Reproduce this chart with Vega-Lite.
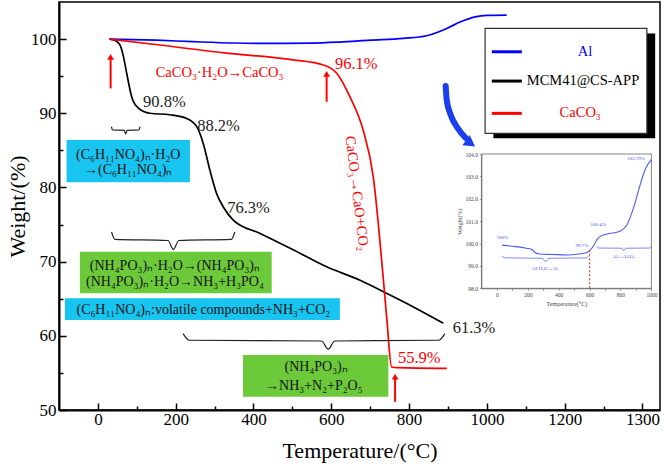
{
  "$schema": "https://vega.github.io/schema/vega-lite/v6.json",
  "width": 601,
  "height": 408,
  "padding": {"left": 59, "top": 2, "right": 4, "bottom": 62},
  "autosize": {"type": "none"},
  "background": "white",
  "config": {
    "font": "Liberation Serif",
    "view": {"stroke": "black", "strokeWidth": 1.5},
    "axis": {"grid": false, "labelFont": "Liberation Serif", "titleFont": "Liberation Serif", "titleFontWeight": "normal", "labelColor": "black", "titleColor": "black", "domainColor": "black", "tickColor": "black", "labelOverlap": false, "labelFlush": false}
  },
  "layer": [
    {
      "layer": [
        {
          "data": {"values": [
            {"t": -80.5, "t2": 236.6, "v": 86.4, "v2": 80.7},
            {"t": -84.9, "t2": 622, "v": 65.05, "v2": 62.13}
          ]},
          "mark": {"type": "rect", "color": "#18c4f0"},
          "encoding": {
            "x": {"field": "t", "type": "quantitative", "scale": {"domain": [-100, 1445], "nice": false, "zero": false},
              "axis": {"values": [0,100,200,300,400,500,600,700,800,900,1000,1100,1200,1300,1400], "format": "d",
                "labelExpr": "datum.value == 1400 ? '1300' : (datum.value % 200 == 0 ? datum.label : '')",
                "tickSize": {"condition": {"test": "datum.value % 200 == 0", "value": -7}, "value": -4},
                "tickWidth": 1.5, "domainWidth": 2, "labelFontSize": 17, "labelPadding": 8,
                "title": "Temperature/(°C)", "titleFontSize": 22, "titleFontWeight": "normal", "titlePadding": 10}},
            "x2": {"field": "t2"},
            "y": {"field": "v", "type": "quantitative", "scale": {"domain": [50, 105], "nice": false, "zero": false},
              "axis": {"values": [50,55,60,65,70,75,80,85,90,95,100],
                "labelExpr": "datum.value % 10 == 0 ? datum.label : ''",
                "tickSize": {"condition": {"test": "datum.value % 10 == 0", "value": -7}, "value": -4},
                "tickWidth": 1.5, "domainWidth": 2, "labelFontSize": 17, "labelPadding": 10,
                "title": "Weight/(%)", "titleFontSize": 22, "titleFontWeight": "normal", "titlePadding": 1}},
            "y2": {"field": "v2"}
          }
        },
        {
          "data": {"values": [
            {"t": -46.3, "t2": 446.8, "v": 71.33, "v2": 65.73},
            {"t": 373, "t2": 746.7, "v": 57.4, "v2": 51.8}
          ]},
          "mark": {"type": "rect", "color": "#6cc93a"},
          "encoding": {
            "x": {"field": "t", "type": "quantitative"},
            "x2": {"field": "t2"},
            "y": {"field": "v", "type": "quantitative"},
            "y2": {"field": "v2"}
          }
        },
        {
          "data": {"values": [
            {"s": "Al", "t": 30, "v": 100.0},
            {"s": "Al", "t": 150, "v": 99.85},
            {"s": "Al", "t": 245, "v": 99.65},
            {"s": "Al", "t": 350, "v": 99.47},
            {"s": "Al", "t": 450, "v": 99.42},
            {"s": "Al", "t": 550, "v": 99.46},
            {"s": "Al", "t": 620, "v": 99.6},
            {"s": "Al", "t": 700, "v": 99.85},
            {"s": "Al", "t": 785, "v": 100.1},
            {"s": "Al", "t": 845, "v": 100.45},
            {"s": "Al", "t": 897, "v": 101.44},
            {"s": "Al", "t": 931, "v": 102.3},
            {"s": "Al", "t": 970, "v": 103.0},
            {"s": "Al", "t": 1000, "v": 103.19},
            {"s": "Al", "t": 1051, "v": 103.23},
            {"s": "MCM41@CS-APP", "t": 30, "v": 100.0},
            {"s": "MCM41@CS-APP", "t": 45, "v": 99.8},
            {"s": "MCM41@CS-APP", "t": 57, "v": 99.2},
            {"s": "MCM41@CS-APP", "t": 65, "v": 97.8},
            {"s": "MCM41@CS-APP", "t": 74, "v": 95.4},
            {"s": "MCM41@CS-APP", "t": 87, "v": 92.2},
            {"s": "MCM41@CS-APP", "t": 104, "v": 90.7},
            {"s": "MCM41@CS-APP", "t": 134, "v": 90.0},
            {"s": "MCM41@CS-APP", "t": 185, "v": 89.8},
            {"s": "MCM41@CS-APP", "t": 228, "v": 89.3},
            {"s": "MCM41@CS-APP", "t": 254, "v": 88.2},
            {"s": "MCM41@CS-APP", "t": 271, "v": 85.9},
            {"s": "MCM41@CS-APP", "t": 288, "v": 82.3},
            {"s": "MCM41@CS-APP", "t": 305, "v": 79.2},
            {"s": "MCM41@CS-APP", "t": 322, "v": 77.4},
            {"s": "MCM41@CS-APP", "t": 348, "v": 75.6},
            {"s": "MCM41@CS-APP", "t": 417, "v": 73.8},
            {"s": "MCM41@CS-APP", "t": 502, "v": 71.6},
            {"s": "MCM41@CS-APP", "t": 588, "v": 69.3},
            {"s": "MCM41@CS-APP", "t": 674, "v": 67.5},
            {"s": "MCM41@CS-APP", "t": 751, "v": 65.5},
            {"s": "MCM41@CS-APP", "t": 811, "v": 63.9},
            {"s": "MCM41@CS-APP", "t": 888, "v": 61.7},
            {"s": "CaCO3", "t": 30, "v": 100.0},
            {"s": "CaCO3", "t": 159, "v": 99.2},
            {"s": "CaCO3", "t": 331, "v": 98.1},
            {"s": "CaCO3", "t": 502, "v": 97.2},
            {"s": "CaCO3", "t": 580, "v": 96.5},
            {"s": "CaCO3", "t": 614, "v": 95.4},
            {"s": "CaCO3", "t": 648, "v": 92.2},
            {"s": "CaCO3", "t": 682, "v": 87.7},
            {"s": "CaCO3", "t": 708, "v": 81.4},
            {"s": "CaCO3", "t": 734, "v": 67.5},
            {"s": "CaCO3", "t": 743, "v": 62.1},
            {"s": "CaCO3", "t": 755, "v": 55.8},
            {"s": "CaCO3", "t": 770, "v": 55.7},
            {"s": "CaCO3", "t": 897, "v": 55.6}
          ]},
          "mark": {"type": "line", "strokeWidth": 1.7, "interpolate": "monotone"},
          "encoding": {
            "x": {"field": "t", "type": "quantitative"},
            "y": {"field": "v", "type": "quantitative"},
            "color": {"field": "s", "type": "nominal", "scale": {"domain": ["Al", "MCM41@CS-APP", "CaCO3"], "range": ["#0000ff", "#000000", "#ff0000"]}, "legend": null}
          }
        },
        {
          "data": {"values": [
            {"b": 1, "t": 35, "v": 88.2}, {"b": 1, "t": 37.2, "v": 87.75}, {"b": 1, "t": 67.8, "v": 87.7}, {"b": 1, "t": 71.5, "v": 87.2}, {"b": 1, "t": 75.2, "v": 87.7}, {"b": 1, "t": 105.8, "v": 87.75}, {"b": 1, "t": 108, "v": 88.2},
            {"b": 2, "t": 35, "v": 74.0}, {"b": 2, "t": 44, "v": 73.0}, {"b": 2, "t": 180, "v": 72.85}, {"b": 2, "t": 194, "v": 71.65}, {"b": 2, "t": 208, "v": 72.85}, {"b": 2, "t": 343, "v": 73.0}, {"b": 2, "t": 352, "v": 74.0},
            {"b": 3, "t": 219, "v": 60.3}, {"b": 3, "t": 235, "v": 59.4}, {"b": 3, "t": 575, "v": 59.3}, {"b": 3, "t": 592, "v": 58.2}, {"b": 3, "t": 609, "v": 59.3}, {"b": 3, "t": 876, "v": 59.4}, {"b": 3, "t": 892, "v": 60.3}
          ]},
          "mark": {"type": "line", "color": "#222", "strokeWidth": 1.2, "interpolate": "monotone"},
          "encoding": {
            "x": {"field": "t", "type": "quantitative"},
            "y": {"field": "v", "type": "quantitative"},
            "detail": {"field": "b", "type": "nominal"}
          }
        },
        {
          "data": {"values": [
            {"t": 32.7, "v": 93.35, "v2": 97.6},
            {"t": 588, "v": 91.55, "v2": 95.3},
            {"t": 764, "v": 51.1, "v2": 54.5}
          ]},
          "layer": [
            {"mark": {"type": "rule", "color": "#ff0000", "strokeWidth": 2},
             "encoding": {"x": {"field": "t", "type": "quantitative"}, "y": {"field": "v", "type": "quantitative"}, "y2": {"field": "v2"}}},
            {"mark": {"type": "point", "shape": "triangle-up", "filled": true, "color": "#ff0000", "opacity": 1, "size": 45},
             "encoding": {"x": {"field": "t", "type": "quantitative"}, "y": {"field": "v2", "type": "quantitative"}}}
          ]
        },
        {
          "data": {"values": [
            {"t": 78, "v": 84.4, "label": "(C₆H₁₁NO₄)ₙ·H₂O"},
            {"t": 78, "v": 82.35, "label": "→(C₆H₁₁NO₄)ₙ"},
            {"t": 198, "v": 69.35, "label": "(NH₄PO₃)ₙ·H₂O→(NH₄PO₃)ₙ"},
            {"t": 198, "v": 67.2, "label": "(NH₄PO₃)ₙ·H₂O→NH₃+H₃PO₄"},
            {"t": 271, "v": 63.5, "label": "(C₆H₁₁NO₄)ₙ:volatile compounds+NH₃+CO₂"},
            {"t": 561, "v": 55.75, "label": "(NH₄PO₃)ₙ"},
            {"t": 555, "v": 53.3, "label": "→NH₃+N₂+P₂O₅"}
          ]},
          "mark": {"type": "text", "fontSize": 14, "color": "#111", "align": "center", "baseline": "middle", "font": "Liberation Serif"},
          "encoding": {"x": {"field": "t", "type": "quantitative"}, "y": {"field": "v", "type": "quantitative"}, "text": {"field": "label"}}
        },
        {
          "data": {"values": [
            {"t": 171, "v": 91.5, "label": "90.8%"},
            {"t": 310, "v": 88.35, "label": "88.2%"},
            {"t": 387, "v": 77.2, "label": "76.3%"},
            {"t": 967, "v": 61.0, "label": "61.3%"}
          ]},
          "mark": {"type": "text", "fontSize": 16.5, "color": "#222", "align": "center", "baseline": "middle", "font": "Liberation Serif"},
          "encoding": {"x": {"field": "t", "type": "quantitative"}, "y": {"field": "v", "type": "quantitative"}, "text": {"field": "label"}}
        },
        {
          "data": {"values": [
            {"t": 664, "v": 96.7, "label": "96.1%"},
            {"t": 826, "v": 57.0, "label": "55.9%"}
          ]},
          "mark": {"type": "text", "fontSize": 16.5, "color": "#ff0000", "align": "center", "baseline": "middle", "font": "Liberation Serif"},
          "encoding": {"x": {"field": "t", "type": "quantitative"}, "y": {"field": "v", "type": "quantitative"}, "text": {"field": "label"}}
        },
        {
          "data": {"values": [
            {"t": 313, "v": 95.46, "label": "CaCO₃·H₂O→CaCO₃"}
          ]},
          "mark": {"type": "text", "fontSize": 14.5, "color": "#ff0000", "align": "center", "baseline": "middle", "font": "Liberation Serif"},
          "encoding": {"x": {"field": "t", "type": "quantitative"}, "y": {"field": "v", "type": "quantitative"}, "text": {"field": "label"}}
        },
        {
          "data": {"values": [
            {"t": 665, "v": 79.2, "label": "CaCO₃→CaO+CO₂"}
          ]},
          "mark": {"type": "text", "fontSize": 14.5, "color": "#ff0000", "align": "center", "baseline": "middle", "angle": 83, "font": "Liberation Serif"},
          "encoding": {"x": {"field": "t", "type": "quantitative"}, "y": {"field": "v", "type": "quantitative"}, "text": {"field": "label"}}
        },
        {
          "data": {"values": [
            {"t": 1016.7, "t2": 1432.6, "v": 100.77, "v2": 86.62}
          ]},
          "mark": {"type": "rect", "color": "black"},
          "encoding": {"x": {"field": "t", "type": "quantitative"}, "x2": {"field": "t2"}, "y": {"field": "v", "type": "quantitative"}, "y2": {"field": "v2"}}
        },
        {
          "data": {"values": [
            {"t": 995.4, "t2": 1411.3, "v": 101.44, "v2": 87.29}
          ]},
          "mark": {"type": "rect", "fill": "white", "stroke": "#333", "strokeWidth": 1.2},
          "encoding": {"x": {"field": "t", "type": "quantitative"}, "x2": {"field": "t2"}, "y": {"field": "v", "type": "quantitative"}, "y2": {"field": "v2"}}
        },
        {
          "data": {"values": [
            {"s": "Al", "label": "Al", "t": 1012.6, "t2": 1089.8, "lt": 1252, "v": 98.29},
            {"s": "MCM41@CS-APP", "label": "MCM41@CS-APP", "t": 1012.6, "t2": 1089.8, "lt": 1247, "v": 94.34},
            {"s": "CaCO3", "label": "CaCO₃", "t": 1012.6, "t2": 1089.8, "lt": 1240, "v": 89.99}
          ]},
          "layer": [
            {"mark": {"type": "rule", "strokeWidth": 3},
             "encoding": {"x": {"field": "t", "type": "quantitative"}, "x2": {"field": "t2"}, "y": {"field": "v", "type": "quantitative"},
               "color": {"field": "s", "type": "nominal", "legend": null}}},
            {"mark": {"type": "text", "fontSize": 14.5, "align": "center", "baseline": "middle", "font": "Liberation Serif"},
             "encoding": {"x": {"field": "lt", "type": "quantitative"}, "y": {"field": "v", "type": "quantitative"}, "text": {"field": "label"},
               "color": {"field": "s", "type": "nominal", "legend": null}}}
          ]
        },
        {
          "data": {"values": [
            {"t": 894, "v": 93.68},
            {"t": 896.7, "v": 91.79},
            {"t": 907, "v": 89.77},
            {"t": 925, "v": 88.01},
            {"t": 945.6, "v": 86.66}
          ]},
          "mark": {"type": "line", "color": "#1a3ff0", "strokeWidth": 6, "interpolate": "monotone", "strokeCap": "round"},
          "encoding": {"x": {"field": "t", "type": "quantitative"}, "y": {"field": "v", "type": "quantitative"}}
        },
        {
          "data": {"values": [
            {"t": 958, "v": 85.95}
          ]},
          "mark": {"type": "point", "shape": "triangle-right", "filled": true, "color": "#1a3ff0", "opacity": 1, "size": 160, "angle": 35},
          "encoding": {"x": {"field": "t", "type": "quantitative"}, "y": {"field": "v", "type": "quantitative"}}
        }
      ]
    },
    {
      "layer": [
        {
          "data": {"values": [{"it": -100, "it2": 1000, "iv": 98, "iv2": 104}]},
          "mark": {"type": "rect", "fill": null, "stroke": "#666", "strokeWidth": 0.8},
          "encoding": {
            "x": {"field": "it", "type": "quantitative", "scale": {"domain": [-100, 1000], "range": [422.4, 592.4], "nice": false, "zero": false},
              "axis": {"orient": "bottom", "offset": -121.7, "values": [0,100,200,300,400,500,600,700,800,900,1000],
                "labelExpr": "datum.value % 200 == 0 ? datum.label : ''", "format": "d",
                "tickSize": 2, "tickWidth": 0.6, "domainWidth": 0.8, "domainColor": "#666", "tickColor": "#666",
                "labelFontSize": 5.5, "labelPadding": 2, "labelColor": "#444",
                "title": "Temperature(°C)", "titleFontSize": 6, "titleFontWeight": "normal", "titlePadding": 3, "titleColor": "#444"}},
            "x2": {"field": "it2"},
            "y": {"field": "iv", "type": "quantitative", "scale": {"domain": [98, 104], "range": [286.3, 152], "nice": false, "zero": false},
              "axis": {"orient": "left", "offset": -422.4, "values": [98,98.5,99,99.5,100,100.5,101,101.5,102,102.5,103,103.5,104],
                "labelExpr": "datum.value % 1 == 0 ? datum.label : ''",
                "tickSize": 2, "tickWidth": 0.6, "domainWidth": 0.8, "domainColor": "#666", "tickColor": "#666",
                "labelFontSize": 5.5, "labelPadding": 2, "labelColor": "#444",
                "title": "Weight(%)", "titleFontSize": 6, "titleFontWeight": "normal", "titlePadding": 3, "titleColor": "#444"}},
            "y2": {"field": "iv2"}
          }
        },
        {
          "data": {"values": [
            {"it": 35, "iv": 99.93}, {"it": 100, "iv": 99.88}, {"it": 192, "iv": 99.79}, {"it": 230, "iv": 99.72},
            {"it": 246, "iv": 99.6}, {"it": 278, "iv": 99.53}, {"it": 360, "iv": 99.51}, {"it": 452, "iv": 99.49},
            {"it": 530, "iv": 99.53}, {"it": 583, "iv": 99.6}, {"it": 605, "iv": 99.72}, {"it": 626, "iv": 99.9},
            {"it": 650, "iv": 100.2}, {"it": 669, "iv": 100.32}, {"it": 713, "iv": 100.43}, {"it": 760, "iv": 100.48},
            {"it": 800, "iv": 100.56}, {"it": 843, "iv": 100.85}, {"it": 887, "iv": 101.65}, {"it": 930, "iv": 102.69},
            {"it": 963, "iv": 103.36}, {"it": 1000, "iv": 103.75}
          ]},
          "mark": {"type": "line", "color": "#4a5cf2", "strokeWidth": 1.1, "interpolate": "monotone"},
          "encoding": {"x": {"field": "it", "type": "quantitative"}, "y": {"field": "iv", "type": "quantitative"}}
        },
        {
          "data": {"values": [
            {"b": "A", "it": 35, "iv": 99.45}, {"b": "A", "it": 50, "iv": 99.36}, {"b": "A", "it": 295, "iv": 99.34}, {"b": "A", "it": 315, "iv": 99.19}, {"b": "A", "it": 335, "iv": 99.34}, {"b": "A", "it": 578, "iv": 99.36}, {"b": "A", "it": 593, "iv": 99.45},
            {"b": "B", "it": 647, "iv": 99.88}, {"b": "B", "it": 657, "iv": 99.8}, {"b": "B", "it": 810, "iv": 99.79}, {"b": "B", "it": 822, "iv": 99.68}, {"b": "B", "it": 834, "iv": 99.79}, {"b": "B", "it": 990, "iv": 99.8}, {"b": "B", "it": 1000, "iv": 99.88}
          ]},
          "mark": {"type": "line", "color": "#5a6cf2", "strokeWidth": 0.8, "interpolate": "monotone"},
          "encoding": {"x": {"field": "it", "type": "quantitative"}, "y": {"field": "iv", "type": "quantitative"}, "detail": {"field": "b", "type": "nominal"}}
        },
        {
          "data": {"values": [{"it": 600, "iv": 98, "iv2": 99.72}]},
          "mark": {"type": "rule", "color": "#ff2020", "strokeWidth": 1, "strokeDash": [2, 2]},
          "encoding": {"x": {"field": "it", "type": "quantitative"}, "y": {"field": "iv", "type": "quantitative"}, "y2": {"field": "iv2"}}
        },
        {
          "data": {"values": [
            {"it": 35, "iv": 100.3, "label": "100%"},
            {"it": 550, "iv": 99.95, "label": "99.7%"},
            {"it": 655, "iv": 100.87, "label": "100.4%"},
            {"it": 900, "iv": 103.8, "label": "103.79%"},
            {"it": 311, "iv": 98.9, "label": "Al·H₂O→Al"},
            {"it": 822, "iv": 99.43, "label": "Al→Al₂O₃"}
          ]},
          "mark": {"type": "text", "fontSize": 5, "color": "#3f50f0", "align": "center", "baseline": "middle", "font": "Liberation Serif"},
          "encoding": {"x": {"field": "it", "type": "quantitative"}, "y": {"field": "iv", "type": "quantitative"}, "text": {"field": "label"}}
        }
      ]
    }
  ],
  "resolve": {"scale": {"x": "independent", "y": "independent"}, "axis": {"x": "independent", "y": "independent"}}
}
